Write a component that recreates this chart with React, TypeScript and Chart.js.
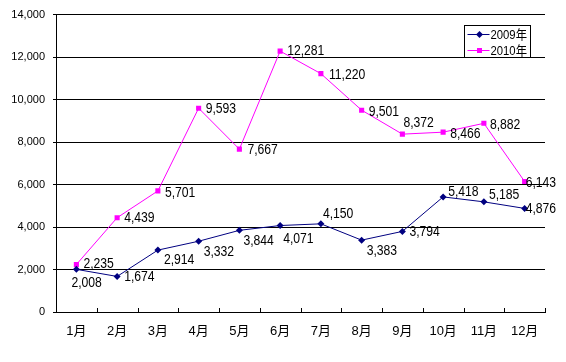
import React, { useEffect, useRef } from 'react';
import { Chart, registerables } from 'chart.js';

Chart.register(...registerables);

// ---- data ----
const months = ['1月', '2月', '3月', '4月', '5月', '6月', '7月', '8月', '9月', '10月', '11月', '12月'];
const seriesNames = ['2009年', '2010年'];
const values2009 = [2008, 1674, 2914, 3332, 3844, 4071, 4150, 3383, 3794, 5418, 5185, 4876];
const values2010 = [2235, 4439, 5701, 9593, 7667, 12281, 11220, 9501, 8372, 8466, 8882, 6143];
const yMin = 0;
const yMax = 14000;
const yStep = 2000;

// data-label placement relative to each point (dx to text left edge, dy to text middle)
const labelOffsets2009: [number, number][] = [
  [-5, 14], [7, 1], [6, 10], [5, 11], [4, 11], [3, 14],
  [2, -10], [5, 11], [7, 1], [5, -5], [5, -7], [1, 1],
];
const labelOffsets2010: [number, number][] = [
  [7, 0], [7, 0], [7, 2], [7, 1], [8, 1], [7, 0],
  [8, 1], [7, 2], [1, -11], [7, 2], [6, 2], [1, 2],
];

const COLOR_2009 = '#000080';
const COLOR_2010 = '#FF00FF';
const FONT_FAMILY = "'Liberation Sans', 'Noto Sans CJK JP', sans-serif";
const NARROW = 0.87;
const fmt = (v: number) => v.toLocaleString('en-US');

function narrowText(ctx: CanvasRenderingContext2D, text: string, x: number, y: number) {
  ctx.save();
  ctx.translate(x, y);
  ctx.scale(NARROW, 1);
  ctx.fillText(text, 0, 0);
  ctx.restore();
}

const pointLabelPlugin = {
  id: 'pointLabelPlugin',
  afterDatasetsDraw(chart: any) {
    const ctx = chart.ctx;
    ctx.save();
    ctx.font = `14px ${FONT_FAMILY}`;
    ctx.fillStyle = '#000';
    ctx.textAlign = 'left';
    ctx.textBaseline = 'middle';
    const offsets = [labelOffsets2009, labelOffsets2010];
    chart.data.datasets.forEach((ds: any, di: number) => {
      const meta = chart.getDatasetMeta(di);
      meta.data.forEach((pt: any, i: number) => {
        const [dx, dy] = offsets[di][i];
        narrowText(ctx, fmt(ds.data[i]), pt.x + dx, pt.y + dy);
      });
    });
    ctx.restore();
  },
};

const xTickPlugin = {
  id: 'xTickPlugin',
  afterDraw(chart: any) {
    const ctx = chart.ctx;
    const area = chart.chartArea;
    const n = chart.data.labels.length;
    ctx.save();
    ctx.strokeStyle = '#000';
    ctx.lineWidth = 1;
    ctx.beginPath();
    for (let i = 0; i <= n; i++) {
      const x = Math.round(area.left + (i * (area.right - area.left)) / n) + 0.5;
      ctx.moveTo(x, area.bottom);
      ctx.lineTo(x, area.bottom - 4);
    }
    ctx.stroke();
    ctx.restore();
  },
};

const legendPlugin = {
  id: 'boxLegendPlugin',
  afterDraw(chart: any) {
    const ctx = chart.ctx;
    const left = 464.5;
    const top = 25.5;
    const w = 66;
    const h = 32;
    ctx.save();
    ctx.fillStyle = '#fff';
    ctx.fillRect(left, top, w, h);
    ctx.strokeStyle = '#000';
    ctx.lineWidth = 1;
    ctx.strokeRect(left, top, w, h);
    ctx.font = `13px ${FONT_FAMILY}`;
    ctx.textAlign = 'left';
    ctx.textBaseline = 'middle';
    chart.data.datasets.forEach((ds: any, i: number) => {
      const y = Math.round(top + 8 + i * 16) + 0.5;
      ctx.strokeStyle = ds.borderColor;
      ctx.lineWidth = ds.borderWidth;
      ctx.beginPath();
      ctx.moveTo(left + 3, y);
      ctx.lineTo(left + 25, y);
      ctx.stroke();
      ctx.fillStyle = ds.pointBackgroundColor;
      const cx = left + 15;
      if (ds.pointStyle === 'rect') {
        ctx.fillRect(cx - 2.5, y - 2.5, 5, 5);
      } else {
        ctx.beginPath();
        ctx.moveTo(cx, y - 3.5);
        ctx.lineTo(cx + 3.5, y);
        ctx.lineTo(cx, y + 3.5);
        ctx.lineTo(cx - 3.5, y);
        ctx.closePath();
        ctx.fill();
      }
      ctx.fillStyle = '#000';
      narrowText(ctx, ds.label, left + 26, y + 1);
    });
    ctx.restore();
  },
};

export default function App() {
  const canvasRef = useRef<HTMLCanvasElement | null>(null);

  useEffect(() => {
    if (!canvasRef.current) return;
    const chart = new Chart(canvasRef.current, {
      type: 'line',
      data: {
        labels: months,
        datasets: [
          {
            label: seriesNames[0],
            data: values2009,
            borderColor: COLOR_2009,
            backgroundColor: COLOR_2009,
            pointBackgroundColor: COLOR_2009,
            pointBorderColor: COLOR_2009,
            borderWidth: 1,
            pointStyle: 'rectRot',
            pointRadius: 3.5,
            pointBorderWidth: 0,
            tension: 0,
            fill: false,
          },
          {
            label: seriesNames[1],
            data: values2010,
            borderColor: COLOR_2010,
            backgroundColor: COLOR_2010,
            pointBackgroundColor: COLOR_2010,
            pointBorderColor: COLOR_2010,
            borderWidth: 1,
            pointStyle: 'rect',
            pointRadius: 3.6,
            pointBorderWidth: 0,
            tension: 0,
            fill: false,
          },
        ],
      },
      options: {
        responsive: false,
        animation: false,
        devicePixelRatio: 1,
        layout: { padding: { top: 12, right: 21, left: 0, bottom: 0 } },
        plugins: {
          legend: { display: false },
          tooltip: { enabled: false },
        },
        scales: {
          x: {
            type: 'category',
            offset: true,
            grid: { display: false, drawTicks: false },
            border: { display: true, color: '#000', width: 1 },
            ticks: {
              color: '#000',
              font: { family: FONT_FAMILY, size: 13 },
              padding: 12,
              autoSkip: false,
              maxRotation: 0,
              minRotation: 0,
            },
            afterFit: (scale: any) => {
              scale.height = 50;
            },
          },
          y: {
            min: yMin,
            max: yMax,
            grid: { color: '#000', lineWidth: 1, tickLength: 3, drawTicks: true },
            border: { display: true, color: '#000', width: 1 },
            ticks: {
              stepSize: yStep,
              color: '#000',
              font: { family: FONT_FAMILY, size: 11 },
              padding: 8,
              callback: (v: any) => fmt(Number(v)),
            },
            afterFit: (scale: any) => {
              scale.width = 56;
            },
          },
        },
      },
      plugins: [xTickPlugin, pointLabelPlugin, legendPlugin],
    } as any);
    return () => chart.destroy();
  }, []);

  return (
    <div style={{ position: 'absolute', left: 0, top: 0, width: 566, height: 362, background: '#fff' }}>
      <canvas ref={canvasRef} width={566} height={362} style={{ display: 'block' }} />
    </div>
  );
}
